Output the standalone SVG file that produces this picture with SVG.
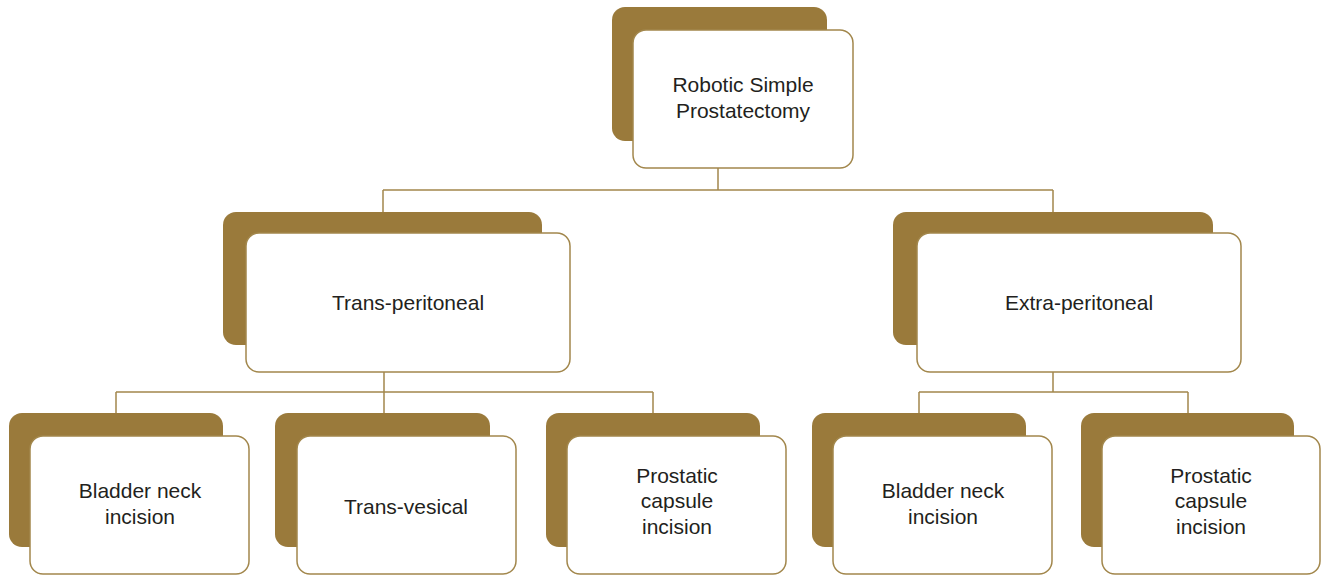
<svg xmlns="http://www.w3.org/2000/svg" width="1325" height="575" viewBox="0 0 1325 575">
  <style>
    .shadow { fill: #9a7a3b; }
    .box { fill: #ffffff; stroke: #a2874c; stroke-width: 1.5; }
    .label { font-family: "Liberation Sans", Arial, sans-serif; font-size: 21px; fill: #231f20; text-anchor: middle; }
    .links { fill: none; stroke: #a2874c; stroke-width: 1.5; }
  </style>
  <rect width="1325" height="575" fill="#ffffff"/>

  <!-- tree connectors -->
  <g id="connectors" class="links">
    <path d="M718 168 V190 M383 190 H1053 M383 190 V212 M1053 190 V212"/>
    <path d="M384 372 V413 M116 392 H653 M116 392 V413 M653 392 V413"/>
    <path d="M1053 372 V392 M919 392 H1188 M919 392 V413 M1188 392 V413"/>
  </g>

  <g id="root">
    <rect class="shadow" x="612" y="7" width="215" height="134" rx="13"/>
    <rect class="box" x="633" y="30" width="220" height="138" rx="13"/>
    <text class="label" x="743" y="92">Robotic Simple</text>
    <text class="label" x="743" y="118">Prostatectomy</text>
  </g>

  <g id="trans-peritoneal">
    <rect class="shadow" x="223" y="212" width="319" height="133" rx="13"/>
    <rect class="box" x="246" y="233" width="324" height="139" rx="13"/>
    <text class="label" x="408" y="310">Trans-peritoneal</text>
  </g>

  <g id="extra-peritoneal">
    <rect class="shadow" x="893" y="212" width="320" height="133" rx="13"/>
    <rect class="box" x="917" y="233" width="324" height="139" rx="13"/>
    <text class="label" x="1079" y="310">Extra-peritoneal</text>
  </g>

  <g id="tp-bladder-neck">
    <rect class="shadow" x="9" y="413" width="214" height="134" rx="13"/>
    <rect class="box" x="30" y="436" width="219" height="138" rx="13"/>
    <text class="label" x="140" y="498">Bladder neck</text>
    <text class="label" x="140" y="524">incision</text>
  </g>

  <g id="tp-trans-vesical">
    <rect class="shadow" x="275" y="413" width="215" height="134" rx="13"/>
    <rect class="box" x="297" y="436" width="219" height="138" rx="13"/>
    <text class="label" x="406" y="514">Trans-vesical</text>
  </g>

  <g id="tp-prostatic-capsule">
    <rect class="shadow" x="546" y="413" width="214" height="134" rx="13"/>
    <rect class="box" x="567" y="436" width="219" height="138" rx="13"/>
    <text class="label" x="677" y="483">Prostatic</text>
    <text class="label" x="677" y="508">capsule</text>
    <text class="label" x="677" y="534">incision</text>
  </g>

  <g id="ep-bladder-neck">
    <rect class="shadow" x="812" y="413" width="214" height="134" rx="13"/>
    <rect class="box" x="833" y="436" width="219" height="138" rx="13"/>
    <text class="label" x="943" y="498">Bladder neck</text>
    <text class="label" x="943" y="524">incision</text>
  </g>

  <g id="ep-prostatic-capsule">
    <rect class="shadow" x="1081" y="413" width="213" height="134" rx="13"/>
    <rect class="box" x="1102" y="436" width="218" height="138" rx="13"/>
    <text class="label" x="1211" y="483">Prostatic</text>
    <text class="label" x="1211" y="508">capsule</text>
    <text class="label" x="1211" y="534">incision</text>
  </g>
</svg>
